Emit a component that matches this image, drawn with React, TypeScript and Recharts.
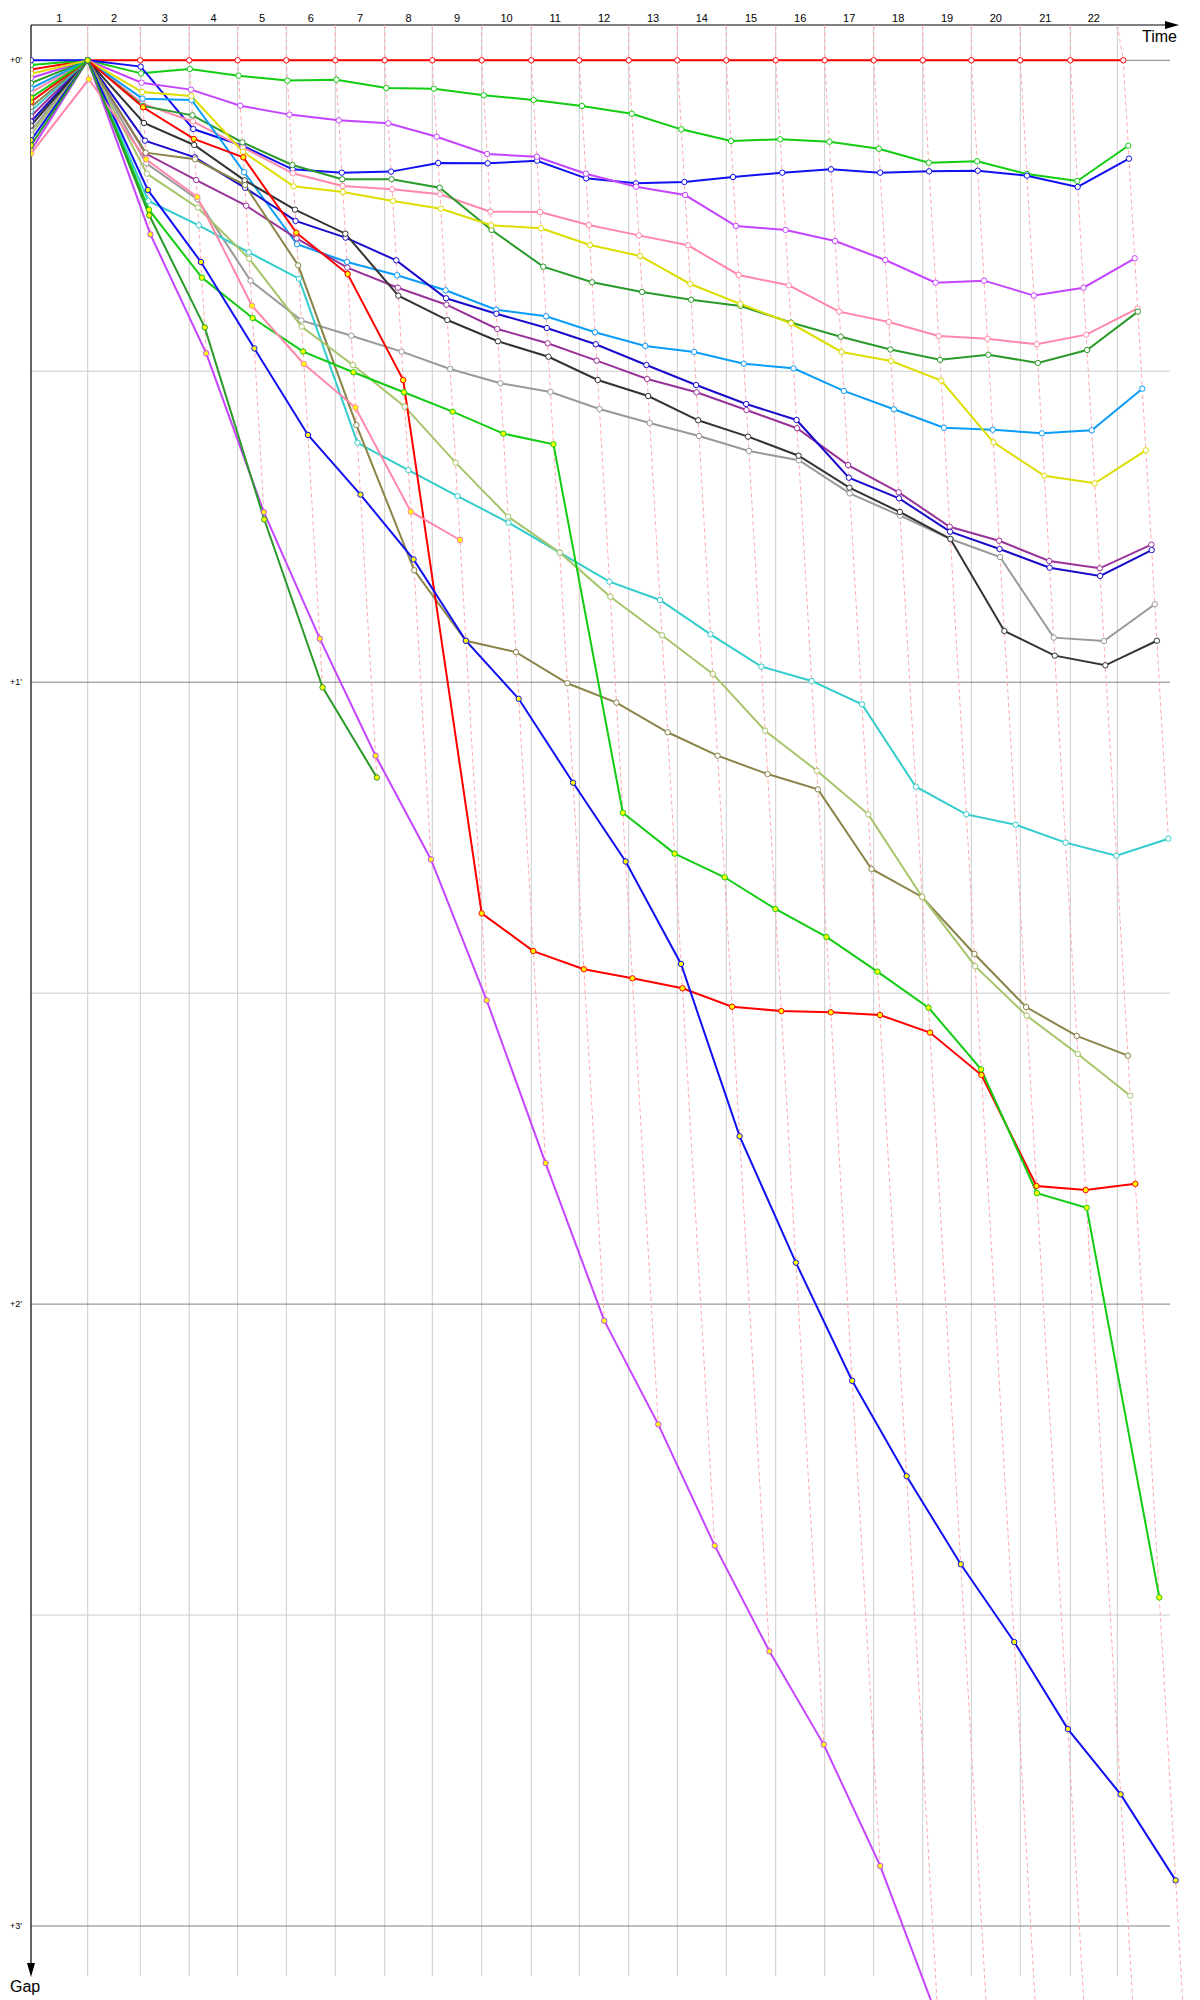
import { ComposedChart, Line, XAxis, YAxis, ReferenceLine } from 'recharts';

// leader crossing time (s) at the end of each lap, index 0 = start
const lapTimes = [0, 94.5, 182.2, 263.8, 344.5, 425.5, 507.2, 589.5, 668.8, 751.2, 833.8, 913.8,
  996.2, 1077.2, 1158.8, 1241.2, 1322.8, 1404.5, 1486.2, 1567.2, 1648.8, 1732.2, 1820.5];
// vertical grid lines, one per lap
const gridTimes = [0, 94.5, 182.2, 263.8, 344.5, 425.5, 507.2, 589.5, 668.8, 751.2, 833.8, 913.8,
  996.2, 1077.2, 1158.8, 1241.2, 1322.8, 1404.5, 1486.2, 1567.2, 1648.8, 1732.2, 1810.5];
const lapLabels = ['1', '2', '3', '4', '5', '6', '7', '8', '9', '10', '11', '12', '13', '14', '15',
  '16', '17', '18', '19', '20', '21', '22'];
const gapTicks = [0, 60, 120, 180];
const gapTickLabels = ["+0'", "+1'", "+2'", "+3'"];
const halfMinuteLines = [30, 90, 150];

// gap to leader (s) per lap, index 0 = start
const redLeader = [0.9, 0, 0, 0, 0, 0, 0, 0, 0, 0, 0, 0, 0, 0, 0, 0, 0, 0, 0, 0, 0, 0, 0];
const greenA = [0.45, 0, 1.26, 0.84, 1.48, 1.96, 1.87, 2.67, 2.74, 3.38, 3.83, 4.41, 5.15, 6.66, 7.79, 7.62, 7.85, 8.53, 9.88, 9.74, 10.97, 11.64, 8.24];
const blueA = [0, 0, 0.61, 6.63, 8.24, 10.52, 10.84, 10.74, 9.91, 9.94, 9.69, 11.39, 11.87, 11.74, 11.26, 10.84, 10.52, 10.84, 10.71, 10.65, 11.13, 12.22, 9.49];
const violetA = [1.7, 0, 2.16, 2.83, 4.38, 5.24, 5.79, 6.08, 7.37, 9.04, 9.3, 10.94, 12.19, 13.0, 15.99, 16.37, 17.43, 19.27, 21.45, 21.26, 22.7, 21.94, 19.1];
const pinkA = [3.1, 0, 4.2, 5.9, 8.4, 10.9, 12.13, 12.45, 12.93, 14.6, 14.64, 15.89, 16.89, 17.85, 20.71, 21.71, 24.25, 25.25, 26.6, 26.86, 27.4, 26.47, 23.93];
const darkGreenA = [2.2, 0, 4.4, 5.31, 7.91, 10.1, 11.48, 11.48, 12.29, 16.37, 19.91, 21.42, 22.35, 23.1, 23.7, 25.3, 26.67, 27.9, 28.9, 28.4, 29.2, 27.95, 24.25];
const azure = [2.7, 0, 3.7, 3.83, 10.8, 17.75, 19.46, 20.74, 22.19, 24.06, 24.7, 26.24, 27.56, 28.14, 29.27, 29.72, 31.9, 33.67, 35.45, 35.64, 35.99, 35.7, 31.68];
const yellow = [1.3, 0, 3.06, 3.44, 8.82, 12.16, 12.71, 13.57, 14.32, 15.92, 16.21, 17.82, 18.88, 21.58, 23.51, 25.37, 28.14, 29.01, 30.91, 36.86, 40.08, 40.81, 37.63];
const purple = [5.4, 0, 9.0, 11.55, 14.03, 17.18, 20.0, 21.94, 23.58, 25.92, 27.3, 28.98, 30.75, 32.03, 33.74, 35.5, 39.05, 41.68, 45.0, 46.35, 48.31, 49.01, 46.73];
const navy = [5.9, 0, 7.75, 9.36, 12.3, 15.5, 17.11, 19.3, 22.96, 24.45, 25.83, 27.4, 29.4, 31.33, 33.16, 34.7, 40.27, 42.26, 45.48, 47.15, 48.95, 49.75, 47.25];
const grey = [6.8, 0, 9.94, 13.4, 21.26, 25.09, 26.57, 28.11, 29.78, 31.16, 32.0, 33.64, 34.99, 36.25, 37.69, 38.59, 41.78, 43.93, 46.18, 47.92, 55.7, 56.03, 52.48];
const black = [6.3, 0, 6.05, 8.17, 11.58, 14.41, 16.73, 22.71, 25.06, 27.11, 28.6, 30.84, 32.39, 34.73, 36.31, 38.15, 41.23, 43.58, 46.18, 55.06, 57.44, 58.37, 56.0];
const turquoise = [4.9, 0, 13.57, 15.92, 18.52, 21.07, 36.9, 39.53, 42.04, 44.61, 47.5, 50.3, 52.07, 55.38, 58.5, 59.88, 62.13, 70.08, 72.75, 73.75, 75.48, 76.74, 75.1];
const olive = [4.5, 0, 8.91, 9.55, 12.03, 19.78, 35.2, 49.2, 56.0, 57.1, 60.1, 61.97, 64.83, 67.09, 68.86, 70.34, 78.02, 80.72, 86.22, 91.34, 94.13, 96.03];
const yellowGreen = [7.2, 0, 10.94, 14.22, 19.14, 25.7, 29.4, 33.42, 38.82, 44.03, 47.5, 51.75, 55.47, 59.2, 64.68, 68.54, 72.75, 80.72, 87.4, 92.17, 95.87, 99.89];
const redB = [4.0, 0, 4.53, 7.59, 9.36, 16.63, 20.62, 30.85, 82.3, 85.94, 87.7, 88.57, 89.53, 91.31, 91.73, 91.85, 92.11, 93.8, 97.9, 108.6, 109.0, 108.4];
const greenB = [3.6, 0, 14.41, 20.97, 24.86, 28.1, 30.1, 32.03, 33.9, 36.02, 37.05, 72.6, 76.54, 78.82, 81.88, 84.58, 87.93, 91.4, 97.35, 109.3, 110.7, 148.3];
const blueB = [7.7, 0, 12.51, 19.46, 27.8, 36.15, 41.9, 48.15, 56.0, 61.6, 69.7, 77.3, 87.18, 103.8, 116.0, 127.4, 136.6, 145.1, 152.6, 161.0, 167.3, 175.6];
const violetB = [8.7, 0, 16.8, 28.27, 43.6, 55.8, 67.1, 77.1, 90.7, 106.4, 121.6, 131.6, 143.3, 153.5, 162.5, 174.2, 189, 199, 210, 221, 232, 243];
const pinkB = [9.0, 1.83, 9.55, 13.19, 23.67, 29.3, 33.5, 43.55, 46.28];
const darkGreenB = [8.2, 0, 14.95, 25.77, 44.3, 60.5, 69.2];

const WHITE = '#ffffff';
const YEL = '#ffff00';
const drivers = [
  { id: 'redLeader', color: '#ff0000', fill: WHITE, gaps: redLeader },
  { id: 'greenA', color: '#11cc11', fill: WHITE, gaps: greenA },
  { id: 'blueA', color: '#1010f0', fill: WHITE, gaps: blueA },
  { id: 'violetA', color: '#c444ff', fill: WHITE, gaps: violetA },
  { id: 'pinkA', color: '#ff88aa', fill: WHITE, gaps: pinkA },
  { id: 'darkGreenA', color: '#2a9a2a', fill: WHITE, gaps: darkGreenA },
  { id: 'azure', color: '#0a9cf8', fill: WHITE, gaps: azure },
  { id: 'yellow', color: '#dddd00', fill: WHITE, gaps: yellow },
  { id: 'purple', color: '#993399', fill: WHITE, gaps: purple },
  { id: 'navy', color: '#1a0acc', fill: WHITE, gaps: navy },
  { id: 'grey', color: '#999999', fill: WHITE, gaps: grey },
  { id: 'black', color: '#333333', fill: WHITE, gaps: black },
  { id: 'turquoise', color: '#33cccc', fill: WHITE, gaps: turquoise },
  { id: 'olive', color: '#8a8448', fill: WHITE, gaps: olive },
  { id: 'yellowGreen', color: '#a6c46a', fill: WHITE, gaps: yellowGreen },
  { id: 'redB', color: '#ff0000', fill: YEL, gaps: redB },
  { id: 'greenB', color: '#11cc11', fill: YEL, gaps: greenB },
  { id: 'blueB', color: '#1010f0', fill: YEL, gaps: blueB },
  { id: 'violetB', color: '#c444ff', fill: YEL, gaps: violetB },
  { id: 'pinkB', color: '#ff88aa', fill: YEL, gaps: pinkB },
  { id: 'darkGreenB', color: '#2a9a2a', fill: YEL, gaps: darkGreenB },
];

// px <-> value helpers for the frame (plot spans x 31..1200, y 25..2000)
const X_MAX = (1200 - 31) / 0.6;
const Y_MIN = (25 - 60.3) / 10.365;
const Y_MAX = (2000 - 60.3) / 10.365;
const tAt = (px: number) => (px - 31) / 0.6;
const gAt = (py: number) => (py - 60.3) / 10.365;

const lapMidTicks = lapLabels.map((_, i) => (gridTimes[i] + gridTimes[i + 1]) / 2);

const series = drivers.map((d) => ({
  ...d,
  data: d.gaps.map((g, lap) => ({ t: lap === 0 ? 0 : lapTimes[lap] + g, g })),
}));

const lapLines = lapLabels.map((_, i) => {
  const lap = i + 1;
  const gs = drivers.filter((d) => d.gaps.length > lap).map((d) => d.gaps[lap]).sort((a, b) => a - b);
  return [{ t: gridTimes[lap], g: Y_MIN }, ...gs.map((g) => ({ t: lapTimes[lap] + g, g }))];
});

const font = 'Liberation Sans, Arial, sans-serif';

export default function App() {
  return (
    <div style={{ position: 'absolute', left: 0, top: 0, width: 1200, height: 2000, background: '#fff' }}>
      <ComposedChart width={1200} height={2000} margin={{ top: 0, right: 0, bottom: 0, left: 0 }}>
        <XAxis
          type="number" dataKey="t" orientation="top" domain={[0, X_MAX]} allowDataOverflow
          ticks={lapMidTicks} interval={0} tickFormatter={(_v: number, i: number) => lapLabels[i]}
          axisLine={false} tickLine={false} tickSize={0} tickMargin={3} height={25}
          tick={{ fontSize: 11, fill: '#000', fontFamily: font }}
        />
        <YAxis
          type="number" dataKey="g" reversed domain={[Y_MIN, Y_MAX]} allowDataOverflow
          ticks={gapTicks} interval={0} tickFormatter={(_v: number, i: number) => gapTickLabels[i]}
          axisLine={false} tickLine={false} tickSize={0} tickMargin={9} width={31}
          tick={{ fontSize: 9, fill: '#000', fontFamily: font }}
        />
        {gridTimes.slice(1).map((t, i) => (
          <ReferenceLine key={'v' + i} ifOverflow="visible" stroke="#cccccc" strokeWidth={1}
            segment={[{ x: t, y: Y_MIN }, { x: t, y: gAt(1976) }]} />
        ))}
        {halfMinuteLines.map((g) => (
          <ReferenceLine key={'h' + g} ifOverflow="visible" stroke="#cccccc" strokeWidth={1}
            segment={[{ x: 0, y: g }, { x: tAt(1170), y: g }]} />
        ))}
        {gapTicks.map((g) => (
          <ReferenceLine key={'m' + g} ifOverflow="visible" stroke="#808080" strokeWidth={1}
            segment={[{ x: 0, y: g }, { x: tAt(1170), y: g }]} />
        ))}
        <ReferenceLine ifOverflow="visible" stroke="#000" strokeWidth={1.2}
          segment={[{ x: 0, y: Y_MIN }, { x: tAt(1166), y: Y_MIN }]} />
        <ReferenceLine ifOverflow="visible" stroke="#000" strokeWidth={1.2}
          segment={[{ x: 0, y: Y_MIN }, { x: 0, y: gAt(1965) }]} />
        {lapLines.map((pts, i) => (
          <Line key={'lap' + i} data={pts} dataKey="g" type="linear" stroke="#ffaaaa" strokeWidth={1}
            strokeDasharray="4 3" dot={false} activeDot={false} isAnimationActive={false} />
        ))}
        {series.map((s) => (
          <Line key={s.id} data={s.data} dataKey="g" type="linear" stroke={s.color} strokeWidth={2}
            dot={{ r: 2.7, stroke: s.color, strokeWidth: 1, fill: s.fill }} activeDot={false}
            isAnimationActive={false} />
        ))}
      </ComposedChart>
      <svg width={1200} height={2000} style={{ position: 'absolute', left: 0, top: 0, pointerEvents: 'none' }}>
        <polygon points="1165,21 1179,25 1165,29" fill="#000" />
        <polygon points="27,1963 31,1977 35,1963" fill="#000" />
        <text x={1177} y={42} textAnchor="end" fontSize={16} fontFamily={font} fill="#000">Time</text>
        <text x={10} y={1992} fontSize={16} fontFamily={font} fill="#000">Gap</text>
      </svg>
    </div>
  );
}
